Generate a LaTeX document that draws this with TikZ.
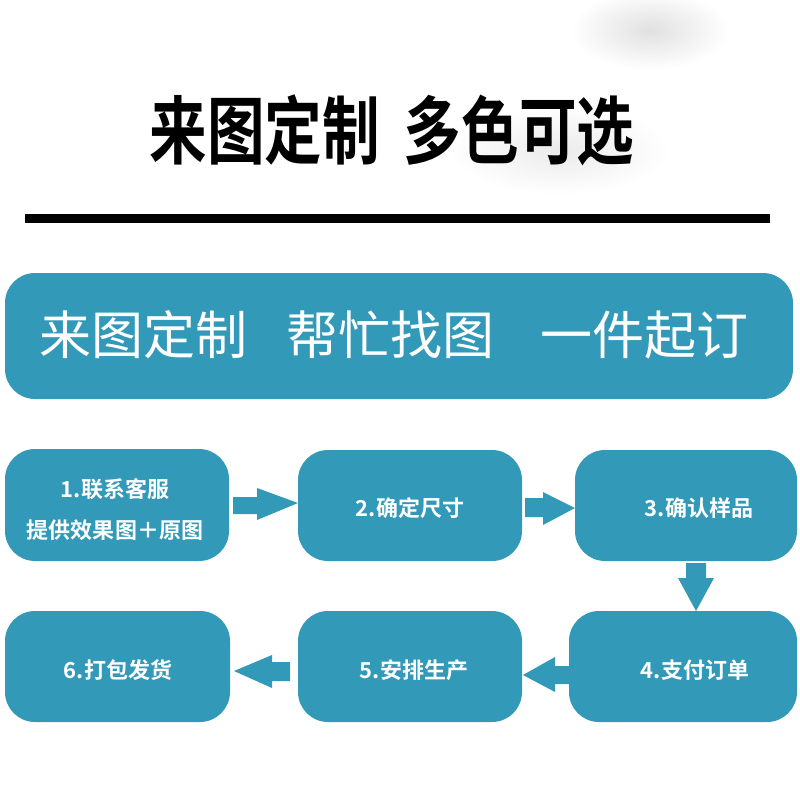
\documentclass[tikz,border=0pt]{standalone}
\usepackage{fontspec}
\newfontfamily\cjk{Noto Sans CJK SC}
\newfontfamily\cjkb{Noto Sans CJK SC}[UprightFont={* Bold}]
\definecolor{teal1}{HTML}{3399B8}
\begin{document}
\begin{tikzpicture}[x=1pt,y=-1pt,
  box/.style={fill=teal1,rounded corners=30pt,draw=none},
  boxtext/.style={text=white,font=\cjkb\fontsize{22}{41}\selectfont,align=center,inner sep=0pt},
  arr/.style={fill=teal1,draw=none}]
\useasboundingbox (0,0) rectangle (800,800);
\fill[white] (0,0) rectangle (800,800);
% faint blur in the top right
\shade[inner color=black!12,outer color=white] (650,30) ellipse (80 and 40);
\shade[inner color=black!8,outer color=white] (560,150) ellipse (110 and 45);
% title
\node[inner sep=0pt] (title) at (392,130) {\scalebox{0.8}[1.03]{\cjkb\fontsize{72}{72}\selectfont 来图定制\hspace{30pt}多色可选}};
\fill[black] (25,214) rectangle (770,223);
\coordinate (rule) at (397,218);
% banner
\fill[box] (5,273) rectangle (793,399);
\node[text=white,inner sep=0pt,font=\cjk\fontsize{52}{52}\selectfont] (banner) at (394,335) {来图定制\hspace{40pt}帮忙找图\hspace{46pt}一件起订};
% boxes
\fill[box] (5,449) rectangle (229,561);
\fill[box] (298,450) rectangle (522,561);
\fill[box] (575,450) rectangle (797,561);
\fill[box] (569,611) rectangle (797,722);
\fill[box] (298,611) rectangle (522,722);
\fill[box] (5,611) rectangle (230,722);
\node[boxtext] (t1) at (115,510) {1.联系客服\\提供效果图＋原图};
\node[boxtext] (t2) at (410,508) {2.确定尺寸};
\node[boxtext] (t3) at (699,508) {3.确认样品};
\node[boxtext] (t4) at (695,670) {4.支付订单};
\node[boxtext] (t5) at (414,670) {5.安排生产};
\node[boxtext] (t6) at (118,670) {6.打包发货};
% block arrows
\fill[arr] (233,497) -- (257,497) -- (257,488) -- (298,503) -- (257,520) -- (257,514) -- (233,514) -- cycle;
\fill[arr] (525,498) -- (543,498) -- (543,492) -- (575,508) -- (543,525) -- (543,517) -- (525,517) -- cycle;
\fill[arr] (686,563) -- (706,563) -- (706,578) -- (714,578) -- (696,611) -- (678,578) -- (686,578) -- cycle;
\fill[arr] (569,666) -- (555,666) -- (555,657) -- (523,675) -- (555,692) -- (555,684) -- (569,684) -- cycle;
\fill[arr] (290,662) -- (272,662) -- (272,655) -- (234,671) -- (272,688) -- (272,681) -- (290,681) -- cycle;
\end{tikzpicture}
\end{document}
